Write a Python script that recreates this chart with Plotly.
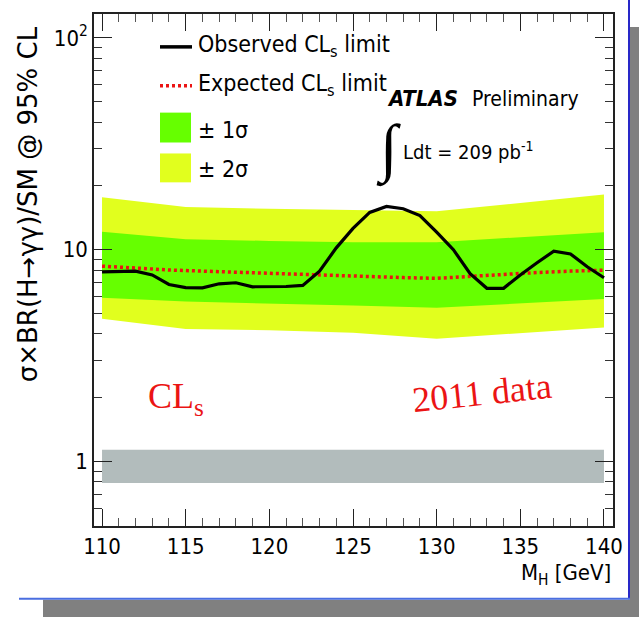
import plotly.graph_objects as go

# ---- data -------------------------------------------------------------
# observed CLs limit on sigma x BR / SM, 1 GeV steps
mass_obs = [110, 111, 112, 113, 114, 115, 116, 117, 118, 119, 120,
            121, 122, 123, 124, 125, 126, 127, 128, 129, 130,
            131, 132, 133, 134, 135, 136, 137, 138, 139, 140]
observed = [7.86, 7.9, 7.92, 7.6, 6.85, 6.62, 6.6, 6.9, 6.98, 6.68, 6.68,
            6.7, 6.78, 7.92, 10.2, 12.6, 15.0, 16.0, 15.6, 14.5, 12.1,
            10.0, 7.7, 6.57, 6.57, 7.6, 8.67, 9.84, 9.55, 8.3, 7.37]

# expected (median) CLs limit
mass_exp = [110, 112, 114, 116, 118, 120, 122, 124, 126, 128, 130,
            132, 134, 136, 138, 140]
expected = [8.36, 8.15, 8.02, 7.92, 7.82, 7.74, 7.66, 7.55, 7.46, 7.38, 7.32,
            7.5, 7.66, 7.8, 7.92, 8.0]

# +-1 sigma / +-2 sigma bands around the expected limit
mass_band = [110, 115, 120, 125, 130, 135, 140]
band_2s_hi = [17.66, 15.9, 15.6, 15.35, 15.2, 16.6, 18.2]
band_1s_hi = [12.15, 11.2, 11.0, 10.85, 10.85, 11.45, 12.1]
band_1s_lo = [5.93, 5.69, 5.57, 5.45, 5.32, 5.6, 5.85]
band_2s_lo = [4.72, 4.22, 4.16, 4.05, 3.80, 4.05, 4.29]

# grey band around the SM expectation
mass_sm = [110, 140]
sm_hi = [1.135, 1.135]
sm_lo = [0.79, 0.79]

# axis ticks
x_major = [110, 115, 120, 125, 130, 135, 140]
y_major = [1, 10, 100]
y_major_text = ["1", "10", "10<sup>2</sup>"]
y_minor = [0.5, 0.6, 0.7, 0.8, 0.9, 2, 3, 4, 5, 6, 7, 8, 9,
           20, 30, 40, 50, 60, 70, 80, 90]

# ---- styles -----------------------------------------------------------
W, H = 639, 617
ML, MR, MT, MB = 94, 26, 12, 91
PW, PH = W - ML - MR, H - MT - MB

HELV = "DejaVu Sans Condensed, Liberation Sans, sans-serif"
SERIF = "Liberation Serif, Times New Roman, serif"
GREEN = "rgb(102,255,0)"
YELLOW = "rgb(225,255,30)"
SMGREY = "rgb(178,188,188)"
RED = "rgb(235,20,20)"


def px(x):
    return (x - ML) / PW


def py(y):
    return 1 - (y - MT) / PH


def polygon(xs, lo, hi):
    return xs + xs[::-1], hi + lo[::-1]


fig = go.Figure()

bx, by = polygon(mass_band, band_2s_lo, band_2s_hi)
fig.add_trace(go.Scatter(x=bx, y=by, fill="toself", fillcolor=YELLOW,
                         line=dict(width=0), mode="lines", hoverinfo="skip"))
bx, by = polygon(mass_band, band_1s_lo, band_1s_hi)
fig.add_trace(go.Scatter(x=bx, y=by, fill="toself", fillcolor=GREEN,
                         line=dict(width=0), mode="lines", hoverinfo="skip"))
bx, by = polygon(mass_sm, sm_lo, sm_hi)
fig.add_trace(go.Scatter(x=bx, y=by, fill="toself", fillcolor=SMGREY,
                         line=dict(width=0), mode="lines", hoverinfo="skip"))

fig.add_trace(go.Scatter(x=mass_exp, y=expected, mode="lines",
                         line=dict(color=RED, width=3.5, dash="3px,3px")))
fig.add_trace(go.Scatter(x=mass_obs, y=observed, mode="lines",
                         line=dict(color="black", width=3.2)))

axis_common = dict(showline=True, linecolor="#222", linewidth=1.5, mirror="ticks",
                   ticks="inside", tickcolor="#222", showgrid=False, zeroline=False,
                   tickfont=dict(family=HELV, size=22, color="black"))

fig.update_xaxes(range=[109.52, 140.54], tickvals=x_major, ticklen=17, tickwidth=1.3,
                 minor=dict(dtick=1, tick0=110, ticks="inside", ticklen=8,
                            tickcolor="#555", tickwidth=1.2),
                 **axis_common)
fig.update_yaxes(type="log", range=[-0.305, 2.113], tickvals=y_major,
                 ticktext=y_major_text, ticklen=18, tickwidth=1.3,
                 minor=dict(tickvals=y_minor, ticks="inside", ticklen=8,
                            tickcolor="#333", tickwidth=1.2),
                 **axis_common)

shapes = []
# slide frame: drop shadow and blue border
shapes.append(dict(type="rect", xref="paper", yref="paper", x0=px(630), x1=px(640),
                   y0=py(25), y1=py(618), fillcolor="#808080", line=dict(width=0)))
shapes.append(dict(type="rect", xref="paper", yref="paper", x0=px(43), x1=px(640),
                   y0=py(600), y1=py(618), fillcolor="#808080", line=dict(width=0)))
shapes.append(dict(type="line", xref="paper", yref="paper", x0=px(629), x1=px(629),
                   y0=py(-2), y1=py(599.5), line=dict(color="#2828c8", width=2)))
shapes.append(dict(type="line", xref="paper", yref="paper", x0=px(19), x1=px(630),
                   y0=py(599), y1=py(599), line=dict(color="#4a6ee0", width=2)))

# legend samples
shapes.append(dict(type="line", xref="paper", yref="paper", x0=px(160), x1=px(192),
                   y0=py(45), y1=py(45), line=dict(color="black", width=3.5)))
shapes.append(dict(type="line", xref="paper", yref="paper", x0=px(160), x1=px(192),
                   y0=py(84), y1=py(84), line=dict(color=RED, width=3.5, dash="3px,3px")))
shapes.append(dict(type="rect", xref="paper", yref="paper", x0=px(160), x1=px(191),
                   y0=py(141), y1=py(111), fillcolor=GREEN, line=dict(width=0)))
shapes.append(dict(type="rect", xref="paper", yref="paper", x0=px(160), x1=px(191),
                   y0=py(181), y1=py(152), fillcolor=YELLOW, line=dict(width=0)))

ann = []


def text(x, y, s, size=23, family=HELV, color="black", xanchor="left",
         yanchor="middle", angle=0):
    ann.append(dict(x=px(x), y=py(y), xref="paper", yref="paper", text=s,
                    showarrow=False, xanchor=xanchor, yanchor=yanchor,
                    textangle=angle, font=dict(family=family, size=size, color=color)))


text(196, 44, "Observed CL<sub>s</sub> limit")
text(196, 83, "Expected CL<sub>s</sub> limit")
text(196, 128, "± 1σ")
text(196, 168, "± 2σ")

text(385, 97, "<b><i>ATLAS</i></b>", size=22)
text(470, 97, "Preliminary", size=21)
text(388, 148, "∫", size=64, family=SERIF, xanchor="center")
text(401, 150, "Ldt = 209 pb<sup>-1</sup>", size=20)

text(146, 398, "CL<sub>s</sub>", size=36, family=SERIF, color=RED)
text(482, 392, "2011 data", size=36, family=SERIF, color=RED,
     xanchor="center", angle=-6)

text(613, 558, "M<sub>H</sub> [GeV]", size=22, xanchor="right", yanchor="top")
text(28, 203, "σ×BR(H→γγ)/SM @ 95% CL", size=26, family="DejaVu Sans",
     xanchor="center", angle=-90)

fig.update_layout(width=W, height=H, margin=dict(l=ML, r=MR, t=MT, b=MB),
                  paper_bgcolor="white", plot_bgcolor="white", showlegend=False,
                  shapes=shapes, annotations=ann)

fig.write_html("out.html")
